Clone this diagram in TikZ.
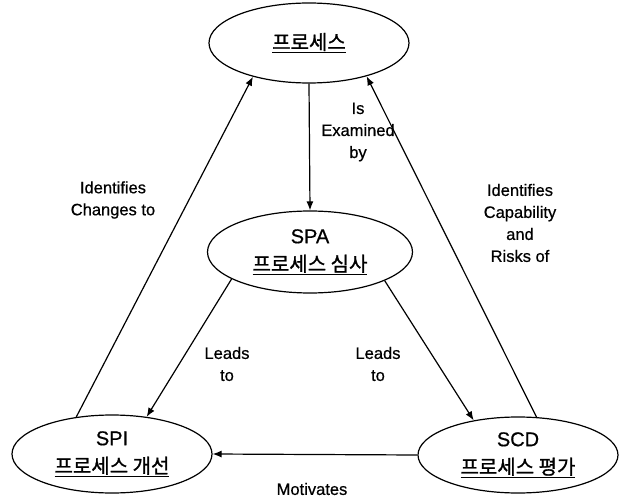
\documentclass[tikz,border=0pt]{standalone}
\usepackage{fontspec}
\setmainfont{Liberation Sans}[FakeBold=0.6]
\newfontfamily\kofont{Noto Sans CJK KR}[FakeBold=1.2]
\usetikzlibrary{arrows.meta,shapes.geometric}
\tikzset{
  processellipse/.style={draw,ellipse,line width=1.2pt,inner sep=0pt,
    minimum width=200pt,minimum height=80pt,align=center,
    font=\fontsize{20}{28}\selectfont},
  linkarrow/.style={-{Latex[length=9pt,width=7pt]},line width=1.2pt},
  linklabel/.style={font=\fontsize{16.5}{22}\selectfont,align=center}
}

\begin{document}
\begin{tikzpicture}[x=1pt,y=-1pt]
  \useasboundingbox (0,0) rectangle (621,497);
  % the four ellipses
  \node[processellipse] (proc) at (309,43) {{\kofont\underline{프로세스}}};
  \node[processellipse,minimum width=205pt,minimum height=82pt] (spa) at (310,252)
    {SPA\\{\kofont\underline{프로세스 심사}}};
  \node[processellipse,minimum height=78pt] (spi) at (112,454)
    {SPI\\{\kofont\underline{프로세스 개선}}};
  \node[processellipse,minimum height=76pt] (scd) at (518,455)
    {SCD\\{\kofont\underline{프로세스 평가}}};
  % connectors
  \draw[linkarrow] (proc.south) -- (spa.north);
  \draw[linkarrow] (spi.134) -- (proc.211);
  \draw[linkarrow] (scd.64) -- (proc.330);
  \draw[linkarrow] (spa.199) -- (spi.47);
  \draw[linkarrow] (spa.339) -- (scd.142);
  \draw[linkarrow] (scd.west) -- (spi.east);
  % labels
  \node[linklabel] (examined) at (358,132) {Is\\Examined\\by};
  \node[linklabel] (changes) at (113,200) {Identifies\\Changes to};
  \node[linklabel] (capability) at (520,223) {Identifies\\Capability\\and\\Risks of};
  \node[linklabel] (leadsspi) at (227,364) {Leads\\to};
  \node[linklabel] (leadsscd) at (378,364) {Leads\\to};
  \node[linklabel] (motivates) at (312,489) {Motivates};
\end{tikzpicture}
\end{document}
